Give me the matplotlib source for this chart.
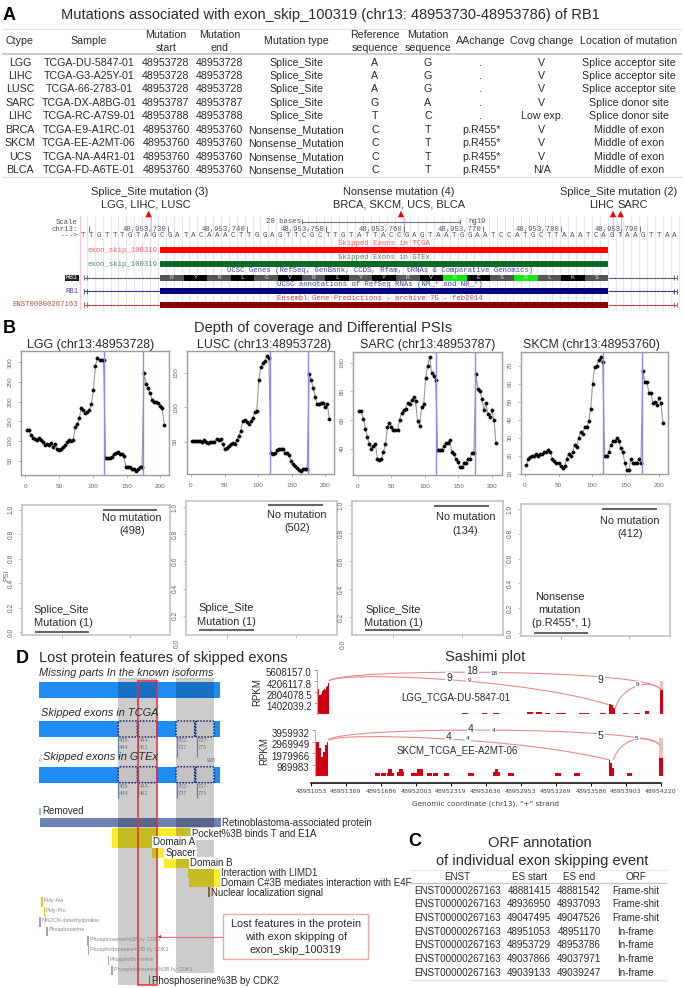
#!/usr/bin/env python
# coding: utf-8
import matplotlib
matplotlib.use('Agg')
import matplotlib.pyplot as plt
from matplotlib.patches import Rectangle, FancyBboxPatch, PathPatch
from matplotlib.path import Path
from matplotlib.transforms import ScaledTranslation

plt.rcParams['font.family'] = ['Liberation Sans', 'DejaVu Sans']

W, H = 684, 988

# =============================================================================
# DATA
# =============================================================================
# panel A table
a_ctype = ['LGG', 'LIHC', 'LUSC', 'SARC', 'LIHC', 'BRCA', 'SKCM', 'UCS', 'BLCA']
a_sample = ['TCGA-DU-5847-01', 'TCGA-G3-A25Y-01', 'TCGA-66-2783-01', 'TCGA-DX-A8BG-01', 'TCGA-RC-A7S9-01',
            'TCGA-E9-A1RC-01', 'TCGA-EE-A2MT-06', 'TCGA-NA-A4R1-01', 'TCGA-FD-A6TE-01']
a_start = ['48953728', '48953728', '48953728', '48953787', '48953788', '48953760', '48953760', '48953760', '48953760']
a_end = a_start
a_type = ['Splice_Site'] * 5 + ['Nonsense_Mutation'] * 4
a_ref = ['A', 'A', 'A', 'G', 'T', 'C', 'C', 'C', 'C']
a_mut = ['G', 'G', 'G', 'A', 'C', 'T', 'T', 'T', 'T']
a_aa = ['.', '.', '.', '.', '.', 'p.R455*', 'p.R455*', 'p.R455*', 'p.R455*']
a_covg = ['V', 'V', 'V', 'V', 'Low exp.', 'V', 'V', 'V', 'N/A']
a_loc = ['Splice acceptor site'] * 3 + ['Splice donor site'] * 2 + ['Middle of exon'] * 4
a_heads = [['Ctype'], ['Sample'], ['Mutation', 'start'], ['Mutation', 'end'], ['Mutation type'],
           ['Reference', 'sequence'], ['Mutation', 'sequence'], ['AAchange'], ['Covg change'], ['Location of mutation']]

# browser track
bases = 'TTGTTTGTAGCGATACAAACTTGGAGTTCGCTTGTATTACCGAGTAATGGAATCCATGCTTAAATCAGTAAGTTAA'
amino = ['R', 'Y', 'K', 'L', 'G', 'V', 'R', 'L', 'Y', 'Y', 'R', 'V', 'H', 'E', 'S', 'R', 'L', 'K', 'S']
amino_col = ['#555555', '#000000', '#555555', '#000000', '#555555', '#000000', '#555555', '#000000', '#555555',
             '#000000', '#555555', '#000000', '#12e812', '#000000', '#555555', '#12e812', '#555555', '#000000', '#555555']
coord_ticks = ['48,953,730', '48,953,740', '48,953,750', '48,953,760', '48,953,770', '48,953,780', '48,953,790']

# panel B coverage, same positions for the 4 samples
cov_x = [2, 5, 8, 11, 14, 17, 20, 23, 26, 29, 32, 35, 38, 41, 44, 47, 50, 53, 56, 59, 62, 65, 68, 71, 74, 77, 80, 83,
         86, 89, 92, 95, 98, 101, 104, 107, 110, 113, 116, 119, 122, 125, 128, 131, 134, 137, 140, 143, 146, 149,
         152, 155, 158, 161, 164, 167, 170, 173, 176, 179, 182, 185, 188, 191, 194, 197, 200, 203, 206]
cov_lgg = [128, 127, 115, 108, 106, 103, 108, 102, 97, 91, 92, 90, 94, 85, 92, 80, 78, 81, 84, 90, 98, 102, 100, 102,
           135, 143, 158, 185, 180, 172, 175, 180, 195, 230, 292, 310, 307, 307, 305, 58, 58, 58, 60, 66, 70, 71, 68,
           66, 62, 35, 33, 33, 30, 28, 25, 30, 34, 34, 272, 245, 235, 222, 205, 200, 200, 198, 190, 183, 140]
cov_lusc = [51, 51, 51, 51, 51, 50, 53, 50, 48, 49, 50, 50, 54, 52, 54, 47, 40, 41, 44, 46, 48, 47, 52, 58, 65, 80,
            82, 79, 76, 80, 85, 93, 95, 140, 158, 165, 167, 175, 172, 33, 32, 33, 38, 39, 40, 40, 34, 33, 30, 22, 18,
            15, 12, 9, 8, 10, 10, 10, 148, 140, 128, 115, 105, 105, 107, 107, 100, 105, 83]
cov_sarc = [66, 66, 61, 54, 48, 43, 40, 42, 43, 33, 32, 33, 38, 43, 55, 58, 55, 53, 53, 53, 60, 65, 67, 68, 72, 71,
            74, 76, 73, 59, 56, 69, 71, 89, 98, 104, 93, 91, 88, 39, 39, 39, 42, 44, 44, 46, 38, 36, 33, 31, 27, 27,
            30, 30, 33, 33, 37, 37, 92, 82, 80, 75, 67, 72, 64, 62, 67, 60, 44]
cov_skcm = [15, 18, 19, 20, 20, 21, 20, 21, 21, 22, 22, 23, 22, 18, 17, 16, 16, 14, 13, 14, 18, 21, 20, 22, 26, 25,
            30, 33, 32, 36, 36, 39, 46, 60, 69, 70, 73, 75, 72, 20, 20, 22, 26, 28, 28, 30, 28, 24, 22, 16, 12, 12,
            18, 16, 16, 16, 18, 16, 67, 61, 61, 55, 55, 49, 50, 48, 52, 49, 38]
cov_titles = ['LGG (chr13:48953728)', 'LUSC (chr13:48953728)', 'SARC (chr13:48953787)', 'SKCM (chr13:48953760)']
cov_ticks = [[50, 100, 150, 200, 250, 300], [50, 100, 150], [40, 60, 80, 100], [10, 20, 30, 40, 50, 60, 70]]
exon_bounds = [117, 175]

# panel B PSI, median of group 1 (mutated) and group 2 (no mutation)
psi_mut = [0.0, 0.096, 0.107, 0.0]
psi_nomut = [1.0, 1.015, 0.993, 1.0]
psi_ticks = [0.0, 0.2, 0.4, 0.6, 0.8, 1.0]

# sashimi
sash_ticks = [48951053, 48951369, 48951686, 48952003, 48952319, 48952636, 48952953, 48953269, 48953586, 48953903, 48954220]
lgg_rpkm_ticks = [1402039.2, 2804078.5, 4206117.8, 5608157.0]
lgg_rpkm_labels = ['1402039.2', '2804078.5', '4206117.8', '5608157.0']
skcm_rpkm_ticks = [989983, 1979966, 2969949, 3959932]
skcm_rpkm_labels = ['989983', '1979966', '2969949', '3959932']
# exon coverage: positions and heights, steps
lgg_e1_x = [48951104, 48951111, 48951120, 48951128, 48951136, 48951144, 48951152, 48951160, 48951168, 48951176, 48951184, 48951192, 48951200, 48951208, 48951216]
lgg_e1_y = [3900000, 3600000, 3200000, 2500000, 2400000, 2600000, 2900000, 3100000, 3200000, 3500000, 3100000, 3400000, 3600000, 4000000, 4000000]
lgg_e2_x = [48953753, 48953770, 48953785, 48953807]
lgg_e2_y = [1270000, 1150000, 800000, 800000]
lgg_e3_x = [48954212, 48954242]
lgg_e3_y = [3080000, 3080000]
lgg_e3_top = [4200000, 4200000]
lgg_blk_a = [48952417, 48952598, 48952703, 48953005, 48953089, 48953171, 48953270, 48953481, 48953669, 48953880, 48953976, 48954076]
lgg_blk_b = [48952477, 48952643, 48952757, 48953059, 48953141, 48953216, 48953360, 48953572, 48953723, 48953925, 48954030, 48954112]
lgg_blk_h = [127000, 127000, 127000, 230000, 230000, 127000, 127000, 200000, 127000, 127000, 127000, 400000]

skcm_e1_x = [48951089, 48951110, 48951128, 48951143, 48951165, 48951183, 48951195, 48951207, 48951210]
skcm_e1_y = [2960000, 2960000, 2400000, 1680000, 2100000, 2680000, 2960000, 3530000, 3530000]
skcm_e2_x = [48953753, 48953762, 48953778, 48953799]
skcm_e2_y = [1400000, 1100000, 700000, 1200000]
skcm_e3_x = [48954206, 48954236]
skcm_e3_y = [1540000, 1540000]
skcm_e3_top = [3250000, 3250000]
skcm_blk_a = [48951632, 48951684, 48951738, 48951753, 48951789, 48951828, 48951853, 48951883, 48951958, 48952015, 48952100, 48952154,
              48952257, 48952477, 48952703, 48952718, 48952748, 48952839, 48953261, 48953433, 48953910]
skcm_blk_b = [48951678, 48951732, 48951753, 48951789, 48951804, 48951853, 48951883, 48951898, 48952009, 48952070, 48952145, 48952199,
              48952305, 48952528, 48952718, 48952748, 48952763, 48952890, 48953313, 48953485, 48953958]
skcm_blk_h = [313600, 313600, 313600, 598700, 313600, 342000, 598700, 342000, 285100, 627000, 285100, 285100,
              285100, 285100, 342000, 598700, 342000, 285100, 285100, 285100, 313600]

# arcs: 4 control points (position, height)
lgg_arcs = [[(48951216, 4220000), (48951285, 5850000), (48954181, 5850000), (48954220, 3080000)],
            [(48951216, 4220000), (48951315, 5490000), (48953005, 4550000), (48953753, 1180000)],
            [(48953807, 760000), (48953865, 3710000), (48954135, 4550000), (48954220, 3080000)]]
skcm_arcs = [[(48951210, 3090000), (48951285, 4300000), (48954150, 4300000), (48954206, 2680000)],
             [(48951210, 3090000), (48951330, 3800000), (48952950, 3300000), (48953753, 1400000)],
             [(48953790, 1400000), (48953850, 3300000), (48954100, 3700000), (48954206, 2680000)]]

# panel C table
c_enst = ['ENST00000267163'] * 7
c_start = ['48881415', '48936950', '49047495', '48951053', '48953729', '49037866', '49039133']
c_end = ['48881542', '48937093', '49047526', '48951170', '48953786', '49037971', '49039247']
c_orf = ['Frame-shit', 'Frame-shit', 'Frame-shit', 'In-frame', 'In-frame', 'In-frame', 'In-frame']

# =============================================================================
# FIGURE
# =============================================================================
fig = plt.figure(figsize=(W / 100, H / 100), dpi=100)
# overlay in pixels, on top of the real axes so the labels stay visible
bg = fig.add_axes([0, 0, 1, 1])
bg.set_xlim(0, W)
bg.set_ylim(H, 0)
bg.axis('off')
bg.set_zorder(10)


def txt(x, y, s, size=7.1, ha='center', color='#2a2a2a', **kw):
    return bg.text(x, y, s, fontsize=size, ha=ha, va='center', color=color, **kw)


def rect(x0, y0, x1, y1, color, z=2, **kw):
    bg.add_patch(Rectangle((x0, y0), x1 - x0, y1 - y0, facecolor=color, edgecolor='none', zorder=z, **kw))


def hline(x0, x1, y, color='#cccccc', lw=1.0, z=2):
    bg.plot([x0, x1], [y, y], color=color, lw=lw, zorder=z, solid_capstyle='butt')


def vline(x, y0, y1, color, lw=1.0, z=2):
    bg.plot([x, x], [y0, y1], color=color, lw=lw, zorder=z, solid_capstyle='butt')


def px_axes(l, t, r, b):
    return fig.add_axes([l / W, 1 - b / H, (r - l) / W, (b - t) / H])


# =============================================================================
# A
# =============================================================================
txt(9, 15, 'A', size=13, fontweight='bold', color='black')
txt(330, 15, 'Mutations associated with exon_skip_100319 (chr13: 48953730-48953786) of RB1', size=10.55)
a_x = [20, 89, 166, 219.5, 296, 375, 428, 481, 542, 629]
for x, head in zip(a_x, a_heads):
    if len(head) == 1:
        txt(x, 41, head[0], size=7.7)
    else:
        txt(x, 35, head[0], size=7.7)
        txt(x, 48, head[1], size=7.7)
a_y = [62.7, 76, 89.3, 102.7, 116, 130, 143.3, 156.7, 170]
a_cols = [a_ctype, a_sample, a_start, a_end, a_type, a_ref, a_mut, a_aa, a_covg, a_loc]
for x, col in zip(a_x, a_cols):
    for y, v in zip(a_y, col):
        txt(x, y, v, size=7.7)
hline(2, 682, 29, '#e4e4e4')
hline(2, 682, 54, '#c4c4c4', 1.2)
hline(2, 682, 177, '#e0e0e0')

# browser
mono = 'Liberation Mono'
mono_col = '#555555'
base_x0, base_dx = 83.0, 7.89
for i in range(76):
    vline(base_x0 + 3.9 + i * base_dx, 216, 310, '#e4e4fb', 0.8, z=1)
vline(79.5, 216, 310, '#f6c8c8', 0.8, z=1)
for x in [150.8, 404, 613, 620.6]:
    vline(x, 217, 236, '#f7b5b5', 0.8, z=1)
for i, b in enumerate(bases):
    txt(base_x0 + i * base_dx, 235.5, b, size=5.4, family=mono, color=mono_col)
txt(78, 222, 'Scale', size=5.2, ha='right', family=mono, color=mono_col)
txt(78, 229, 'chr13:', size=5.2, ha='right', family=mono, color=mono_col)
txt(78, 235.5, '--->', size=5.2, ha='right', family=mono, color=mono_col)
txt(283, 221.7, '20 bases', size=5.2, family=mono, color=mono_col)
txt(477, 221.7, 'hg19', size=5.2, family=mono, color=mono_col)
hline(302.4, 460, 221.7, '#777777', 0.8)
vline(302.4, 219, 224.5, '#777777', 0.8)
vline(460, 219, 224.5, '#777777', 0.8)
vline(88.7, 226, 232, '#666666', 0.6)
for x, s in zip([168, 247, 325.6, 404, 483, 561, 640], coord_ticks):
    txt(x - 1.5, 229, s, size=5.2, ha='right', family=mono, color=mono_col)
    vline(x, 226, 232, '#666666', 0.6)

txt(149.5, 192, 'Splice_Site mutation (3)', size=7.9)
txt(145.5, 204, 'LGG, LIHC, LUSC', size=7.9)
txt(399, 192, 'Nonsense mutation (4)', size=7.9)
txt(399, 204, 'BRCA, SKCM, UCS, BLCA', size=7.9)
txt(619, 192, 'Splice_Site mutation (2)', size=7.9)
txt(602, 205, 'LIHC', size=7.9)
txt(633, 205, 'SARC', size=7.9)
for x in [148.6, 401, 613, 620.6]:
    bg.fill([x - 3.2, x + 3.2, x], [217.3, 217.3, 210.7], color='#f00000', zorder=4, lw=0)

ex0, ex1 = 160, 608.3
rect(ex0, 247, ex1, 253, '#ff0000')
rect(ex0, 261, ex1, 267, '#0e6b26')
rect(ex0, 288.3, ex1, 294.3, '#000080')
rect(ex0, 301.7, ex1, 307.7, '#8b0000')
txt(157, 250, 'exon_skip_100319', size=5.2, ha='right', color='#ff5a5a', family=mono)
txt(157, 264, 'exon_skip_100319', size=5.2, ha='right', color='#4a8a5a', family=mono)
txt(384, 243.3, 'Skipped Exons in TCGA', size=5.2, color='#ff5a5a', family=mono)
txt(384, 257, 'Skipped Exons in GTEx', size=5.2, color='#4a8a5a', family=mono)
txt(380, 270.7, 'UCSC Genes (RefSeq, GenBank, CCDS, Rfam, tRNAs & Comparative Genomics)', size=5.2, color='#4a4aa5', family=mono)
txt(380, 284, 'UCSC annotations of RefSeq RNAs (NM_* and NR_*)', size=5.2, color='#4a4aa5', family=mono)
txt(380, 298, 'Ensembl Gene Predictions - archive 75 - feb2014', size=5.2, color='#b05050', family=mono)
rect(65, 274.7, 78.7, 280.7, '#222222')
txt(72, 277.7, 'RB1', size=4.8, color='white', family=mono)
txt(78, 291.3, 'RB1', size=5.2, ha='right', color='#4a4aa5', family=mono)
txt(78, 304.7, 'ENST00000267163', size=5.2, ha='right', color='#b05050', family=mono)
aa_dx = (ex1 - ex0) / len(amino)
for i, (a, c) in enumerate(zip(amino, amino_col)):
    rect(ex0 + i * aa_dx, 274.7, ex0 + (i + 1) * aa_dx, 280.7, c)
    txt(ex0 + (i + 0.5) * aa_dx, 277.7, a, size=4.6, color='#dddddd', family=mono, zorder=4)
for y, c in zip([277.7, 291.3, 304.7], ['#5a5a86', '#38389a', '#b04a4a']):
    hline(84, ex0, y, c, 0.7, z=1)
    hline(ex1, 677, y, c, 0.7, z=1)
    for x0, x1 in [(88, ex0), (ex1 + 2, 672)]:
        x = x0
        while x < x1:
            bg.plot([x], [y], marker='<', ms=1.4, color=c, mew=0, zorder=1)
            x += 3.6
    for x in [84, 87, 673.5, 676.5]:
        vline(x, y - 2.6, y + 2.6, c, 0.6, z=1)

# =============================================================================
# B
# =============================================================================
txt(9, 328, 'B', size=13, fontweight='bold', color='black')
txt(323, 328, 'Depth of coverage and Differential PSIs', size=10.5)
for x, t in zip([91, 264, 428, 591], cov_titles):
    txt(x, 345, t, size=8.9)

cov_boxes = [(21, 351, 169, 475), (186.7, 351, 334, 474), (353.3, 352, 502, 475), (521, 352, 668, 474)]
cov_xlim = [(-6.4, 213), (-6.4, 213), (-7, 215), (-6, 213.5)]
cov_ylim = [(13.6, 329), (3, 182), (21.6, 107.5), (9.8, 77.6)]
for box, xl, yl, vals, ticks in zip(cov_boxes, cov_xlim, cov_ylim, [cov_lgg, cov_lusc, cov_sarc, cov_skcm], cov_ticks):
    ax = px_axes(*box)
    ax.plot(cov_x, vals, color='#9a9a9a', lw=0.8, marker='o', ms=2.5, mfc='black', mec='black', mew=0.2)
    for b in exon_bounds:
        ax.axvline(b, color='#8a8af0', lw=1.0)
    ax.set_xticks([0, 50, 100, 150, 200])
    ax.set_yticks(ticks)
    ax.set_xlim(*xl)
    ax.set_ylim(*yl)
    ax.tick_params(axis='both', labelsize=4.6, labelcolor='#666666', color='#999999', length=2.2, width=0.5, pad=4)
    ax.tick_params(axis='y', labelrotation=90)
    for lab in ax.get_yticklabels():
        lab.set_va('center')
    for s in ax.spines.values():
        s.set_color('#9c9c9c')
        s.set_linewidth(1.0)

psi_boxes = [(22, 505, 170, 635), (185.7, 501, 336.5, 635), (352, 501, 502.6, 635), (521, 504, 669.6, 636)]
psi_ylim = [(-0.025, 1.04), (0.059, 1.044), (0.071, 1.029), (-0.024, 1.04)]
for box, yl, lo, hi in zip(psi_boxes, psi_ylim, psi_mut, psi_nomut):
    ax = px_axes(*box)
    # R style stripes for the medians
    ax.hlines(lo, 0.6, 1.4, color='#666666', lw=1.5, clip_on=False)
    ax.hlines(hi, 1.6, 2.4, color='#666666', lw=1.5, clip_on=False)
    ax.set_xticks([1, 2])
    ax.set_xticklabels([])
    ax.set_yticks(psi_ticks)
    ax.set_xlim(0.41, 2.59)
    ax.set_ylim(*yl)
    ax.tick_params(axis='both', labelsize=4.8, labelcolor='#666666', color='#999999', length=2.2, width=0.5, pad=3)
    ax.tick_params(axis='y', labelrotation=90)
    for lab in ax.get_yticklabels():
        lab.set_va('center')
    # the 0.0 tick sits under the box in the two middle panels
    if yl[0] > 0:
        ax.text(-0.055, 0.0, '0.0', transform=ax.get_yaxis_transform(), fontsize=4.8, color='#666666', rotation=90,
                ha='center', va='center', clip_on=False)
    for s in ax.spines.values():
        s.set_color('#c4c4c4')
        s.set_linewidth(1.2)
txt(6.5, 575, 'PSI', size=5, color='#666666', rotation=90)
psi_size = 7.9
for x, y, s in [(132, 517.7, 'No mutation'), (132, 531, '(498)'), (61, 610, 'Splice_Site'), (63.4, 623.3, 'Mutation (1)'),
                (297, 515, 'No mutation'), (297, 528.3, '(502)'), (226, 608.3, 'Splice_Site'), (226, 621.7, 'Mutation (1)'),
                (465.5, 517.3, 'No mutation'), (465.5, 530.7, '(134)'), (393.4, 610, 'Splice_Site'), (393.4, 623.3, 'Mutation (1)'),
                (630, 520.7, 'No mutation'), (630, 534.3, '(412)'), (559.4, 596.7, 'Nonsense'), (559.4, 610, 'mutation'),
                (561.6, 623.3, '(p.R455*, 1)')]:
    txt(x, y, s, size=psi_size)

# =============================================================================
# D
# =============================================================================
txt(22, 658, 'D', size=13, fontweight='bold', color='black')
txt(38.7, 658, 'Lost protein features of skipped exons', size=10.55, ha='left')
txt(39, 673.3, 'Missing parts In the known isoforms', size=7.9, ha='left', style='italic')
txt(40.7, 713, 'Skipped exons in TCGA', size=7.9, ha='left', style='italic', zorder=6)
txt(42.7, 756.7, 'Skipped exons in GTEx', size=7.9, ha='left', style='italic', zorder=6)
txt(40.7, 760, '0', size=4, color='#888888')
txt(211.7, 760, '928', size=4, color='#888888')
blue = '#1e8cf5'
for y in [681.7, 721, 766.7]:
    rect(39.3, y, 220, y + 16, blue, z=2)
# gray bands laid over the features
rect(118.3, 678, 157.3, 985, 'black', z=3, alpha=0.2)
rect(175.7, 678, 214, 973, 'black', z=3, alpha=0.2)
for y in [721, 766.7]:
    for x0, x1 in [(118.3, 137.3), (138.3, 157), (176, 194.7), (195.7, 214)]:
        bg.add_patch(FancyBboxPatch((x0 + 1.5, y + 1.5), x1 - x0 - 3, 13, boxstyle='round,pad=1.5', facecolor='#c2c2c2',
                                    edgecolor='#22226e', lw=1.1, ls=(0, (1, 1)), zorder=4))
for y0, y1, yl1, yl2 in [(737, 756.7, 740.5, 747), (782.7, 797.7, 786.7, 793.3)]:
    for x, a, b in [(118.3, '405-', '444'), (137.5, '444-', '463'), (176.7, '702-', '737'), (196.7, '737-', '775')]:
        vline(x, y0, y1, '#6aa6e0', 0.9)
        txt(x + 1, yl1, a, size=4, ha='left', color='#777777', zorder=5)
        txt(x + 1, yl2, b, size=4, ha='left', color='#777777', zorder=5)
rect(39, 808, 41, 815, '#8cc4dc')
txt(42, 811, 'Removed', size=7, ha='left', zorder=6)

rect(40, 818.3, 220.7, 827.3, '#6f80b2')
rect(112, 828.3, 190, 838, '#f8ec2c')
rect(112, 838, 152, 847.7, '#f8ec2c')
rect(152, 847.7, 164, 857.7, '#f8ec2c')
rect(163.7, 857.7, 189.3, 867.7, '#f8ec2c')
rect(187.7, 867.7, 220, 877.7, '#f8ec2c')
rect(189, 877.7, 220, 887, '#f8ec2c')
rect(208, 887.3, 210, 896.7, '#a08a30')
white = dict(facecolor='white', edgecolor='none', pad=0.6)
txt(221.7, 822.7, 'Retinoblastoma-associated protein', size=7, ha='left', zorder=6)
txt(191.7, 834, 'Pocket%3B binds T and E1A', size=7, ha='left', zorder=6, bbox=white)
txt(153.3, 841.7, 'Domain A', size=7, ha='left', zorder=6, bbox=white)
txt(165.7, 853.3, 'Spacer', size=7, ha='left', zorder=6, bbox=white)
txt(190, 863.3, 'Domain B', size=7, ha='left', zorder=6, bbox=white)
txt(220.7, 873.3, 'Interaction with LIMD1', size=7, ha='left', zorder=6)
txt(220.7, 883.3, 'Domain C#3B mediates interaction with E4F', size=7, ha='left', zorder=6)
txt(210.7, 893.3, 'Nuclear localization signal', size=7, ha='left', zorder=6)

small_feats = [('Poly-Ala', 42, 897, '#e8c820'), ('Poly-Pro', 44.3, 907, '#e8c820'), ('N%2CN-dimethylproline', 40, 917, '#a99ad0'),
               ('Phosphoserine', 47, 926.5, '#a99ad0'), ('Phosphoserine%3B by CDK1', 88, 936, '#a99ad0'),
               ('Phosphothreonine%3B by CDK1', 88.3, 945.7, '#a99ad0'), ('Phosphothreonine', 108.3, 955.7, '#a99ad0'),
               ('Phosphothreonine%3B by CDK1', 112, 965.7, '#a99ad0')]
for name, x, y, c in small_feats:
    rect(x - 0.7, y, x + 0.7, y + 9.5, c)
    txt(x + 1.6, y + 3.3, name, size=3.9, ha='left', color='#888888', zorder=5)
rect(149, 975, 150.4, 985, '#8b8bb0')
txt(151.7, 980.7, 'Phosphoserine%3B by CDK2', size=7, ha='left', zorder=6)

# red box and note
bg.add_patch(Rectangle((138.3, 681), 19, 304, fill=False, edgecolor='#ee2a35', lw=1.1, zorder=5))
bg.add_patch(Rectangle((223.3, 914.3), 144.4, 44.7, facecolor='white', edgecolor='#f2a8a8', lw=1.0, zorder=5))
txt(295.7, 924, 'Lost features in the protein', size=7.8, zorder=6)
txt(295.7, 937, 'with exon skipping of', size=7.8, zorder=6)
txt(295.7, 950, 'exon_skip_100319', size=7.8, zorder=6)
hline(160, 223.3, 936.7, '#f07a7a', 0.9, z=5)
bg.fill([157.7, 161, 161], [936.7, 935, 938.4], color='#ee1c25', zorder=6, lw=0)

# =============================================================================
# Sashimi
# =============================================================================
txt(485, 656.7, 'Sashimi plot', size=10.5)
red = '#d00010'
light = '#f6bcbc'
arc_col = '#ea8a8a'


def sashimi(box, spine_x, ymax, ticks, labels, e1, e2, e3, e3_top, blk, arcs):
    ax = px_axes(*box)
    ax.patch.set_alpha(0)
    ax.set_xlim(48951053, 48954284)
    ax.set_ylim(0, ymax)
    for xs, ys in [e1, e2]:
        ax.fill_between(xs, ys, step='post', color=red, lw=0)
    ax.fill_between(e3[0], e3_top, color=light, lw=0)
    ax.fill_between(e3[0], e3[1], color=red, lw=0)
    ax.bar(blk[0], blk[2], width=[b - a for a, b in zip(blk[0], blk[1])], align='edge', color=red, lw=0)
    ax.axhline(0, color='#f6d4d4', lw=0.8)
    for a in arcs:
        ax.add_patch(PathPatch(Path(a, [Path.MOVETO, Path.CURVE4, Path.CURVE4, Path.CURVE4]), fill=False,
                               edgecolor=arc_col, lw=0.8, clip_on=False))
    for k in ['top', 'right']:
        ax.spines[k].set_visible(False)
    ax.spines['left'].set_position(('data', spine_x))
    ax.spines['left'].set_color('#b0b0b0')
    ax.spines['left'].set_linewidth(0.8)
    ax.set_yticks(ticks)
    ax.set_yticklabels(labels)
    ax.set_ylim(0, ymax)
    ax.tick_params(axis='y', labelsize=7, labelcolor='#2a2a2a', length=2.5, width=0.5, color='#777777', pad=1.5)
    shift = ScaledTranslation(0, -1.8 / 72, fig.dpi_scale_trans)
    for lab in ax.get_yticklabels():
        lab.set_transform(lab.get_transform() + shift)
    return ax


ax1 = sashimi((311, 670, 668, 714.3), 48951110, 5608157.0, lgg_rpkm_ticks, lgg_rpkm_labels, (lgg_e1_x, lgg_e1_y),
              (lgg_e2_x, lgg_e2_y), (lgg_e3_x, lgg_e3_y), lgg_e3_top, (lgg_blk_a, lgg_blk_b, lgg_blk_h), lgg_arcs)
ax1.spines['bottom'].set_visible(False)
ax1.set_xticks([])
ax2 = sashimi((311, 730, 668, 776.3), 48951089, 3959932, skcm_rpkm_ticks, skcm_rpkm_labels, (skcm_e1_x, skcm_e1_y),
              (skcm_e2_x, skcm_e2_y), (skcm_e3_x, skcm_e3_y), skcm_e3_top, (skcm_blk_a, skcm_blk_b, skcm_blk_h), skcm_arcs)
ax2.spines['bottom'].set_position(('outward', 5))
ax2.spines['bottom'].set_bounds(sash_ticks[0], sash_ticks[-1])
ax2.spines['bottom'].set_linewidth(1.1)
ax2.set_xticks(sash_ticks)
ax2.set_xticklabels([str(v) for v in sash_ticks], fontsize=4.5, family='DejaVu Sans', color='#444444')
ax2.set_xlim(48951053, 48954284)
ax2.tick_params(axis='x', length=2.5, width=0.7, pad=1.5)
txt(485.7, 803.3, 'Genomic coordinate (chr13), "+" strand', size=5.3, family='DejaVu Sans', color='#444444')
txt(257, 691.7, 'RPKM', size=7, rotation=90)
txt(264.5, 751, 'RPKM', size=7, rotation=90)
txt(455.7, 697, 'LGG_TCGA-DU-5847-01', size=7)
txt(457.3, 749.7, 'SKCM_TCGA_EE-A2MT-06', size=7)
# junction counts, a white box breaks the arc behind each one
jw = dict(facecolor='white', edgecolor='none', pad=0.8)
for x, y, s, sz in [(472.3, 671, '18', 7.6), (494.3, 673.3, '18', 4.6), (449, 678.3, '9', 7.6), (469.3, 680.7, '9', 4.6),
                    (600.7, 680.3, '9', 7.6), (637.7, 684.3, '9', 4.6), (470.7, 729, '4', 7.6), (493.3, 730.3, '4', 4.6),
                    (448.7, 737.3, '4', 7.6), (468, 738, '4', 4.6), (600.7, 736.3, '5', 7.6), (636.7, 738, '5', 4.6)]:
    txt(x, y, s, size=sz, zorder=6, bbox=jw)

# =============================================================================
# C
# =============================================================================
txt(415, 841.7, 'C', size=13, fontweight='bold', color='black')
txt(540, 842.7, 'ORF annotation', size=10.5)
txt(542, 860.7, 'of individual exon skipping event', size=10.5)
c_x = [457.3, 529.3, 579, 635.7]
c_y = [890.7, 904.3, 918.3, 931.7, 945, 959, 972.7]
for x, h in zip(c_x, ['ENST', 'ES start', 'ES end', 'ORF']):
    txt(x, 877.3, h)
for x, col in zip(c_x, [c_enst, c_start, c_end, c_orf]):
    for y, v in zip(c_y, col):
        txt(x, y, v)
hline(410, 666.7, 870, '#e8e8e8')
hline(410, 666.7, 883.3, '#c8c8c8')
hline(410, 666.7, 980, '#e0e0e0')

fig.savefig('out.png', dpi=100)
